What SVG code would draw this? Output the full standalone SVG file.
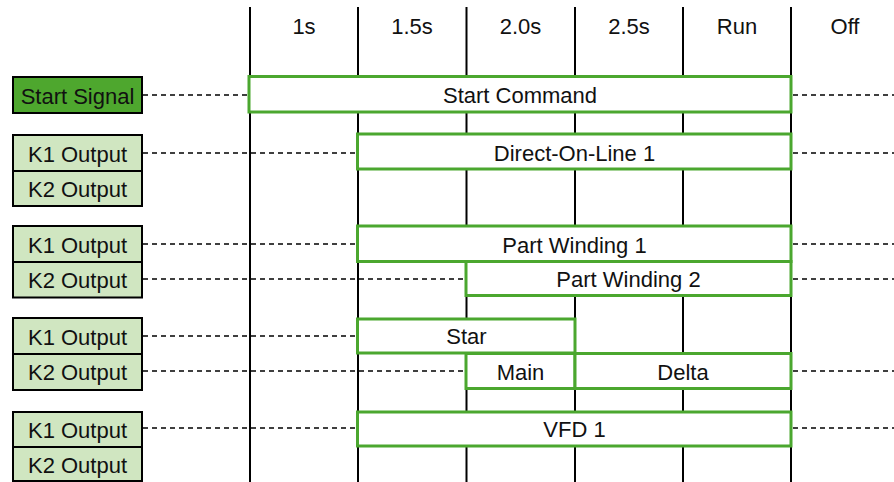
<svg xmlns="http://www.w3.org/2000/svg" width="894" height="482" viewBox="0 0 894 482">
<style>
  text { font-family: "Liberation Sans", Arial, sans-serif; font-size: 22px; fill: #111; }
  .c { text-anchor: middle; }
  .grid { stroke: #000; stroke-width: 2; }
  .dash { stroke: #000; stroke-width: 1.5; stroke-dasharray: 5 4; fill: none; }
  .bar { fill: #fff; stroke: #4ba72f; stroke-width: 3; }
  .lbl { fill: #d0e6c1; stroke: #000; stroke-width: 2; }
  .lbl-start { fill: #4ea72e; stroke: #000; stroke-width: 2; }
</style>
<rect width="894" height="482" fill="#fff"/>
<g id="grid">
  <line class="grid" x1="250" y1="7" x2="250" y2="482"/>
  <line class="grid" x1="358" y1="7" x2="358" y2="482"/>
  <line class="grid" x1="466.5" y1="7" x2="466.5" y2="482"/>
  <line class="grid" x1="575" y1="7" x2="575" y2="482"/>
  <line class="grid" x1="683" y1="7" x2="683" y2="482"/>
  <line class="grid" x1="791" y1="7" x2="791" y2="482"/>
</g>
<g id="headers">
  <text class="c" x="304" y="34">1s</text>
  <text class="c" x="412" y="34">1.5s</text>
  <text class="c" x="520.5" y="34">2.0s</text>
  <text class="c" x="629" y="34">2.5s</text>
  <text class="c" x="737" y="34">Run</text>
  <text class="c" x="845" y="34">Off</text>
</g>
<g id="connectors">
  <line class="dash" x1="143" y1="95" x2="249" y2="95"/>
  <line class="dash" x1="793" y1="95" x2="894" y2="95"/>
  <line class="dash" x1="143" y1="153" x2="357" y2="153"/>
  <line class="dash" x1="793" y1="153" x2="894" y2="153"/>
  <line class="dash" x1="143" y1="244" x2="357" y2="244"/>
  <line class="dash" x1="793" y1="244" x2="894" y2="244"/>
  <line class="dash" x1="143" y1="279" x2="465" y2="279"/>
  <line class="dash" x1="793" y1="279" x2="894" y2="279"/>
  <line class="dash" x1="143" y1="336" x2="357" y2="336"/>
  <line class="dash" x1="143" y1="371" x2="465" y2="371"/>
  <line class="dash" x1="793" y1="371" x2="894" y2="371"/>
  <line class="dash" x1="143" y1="428" x2="357" y2="428"/>
  <line class="dash" x1="793" y1="428" x2="894" y2="428"/>
</g>
<g id="start-command"><rect class="bar" x="249" y="76.5" width="542" height="35.5"/><text class="c" x="520" y="103">Start Command</text></g>
<g id="dol1"><rect class="bar" x="357.5" y="134" width="433.5" height="35"/><text class="c" x="574.5" y="161">Direct-On-Line 1</text></g>
<g id="pw1"><rect class="bar" x="357.5" y="226" width="433.5" height="35.5"/><text class="c" x="574.5" y="252.5">Part Winding 1</text></g>
<g id="pw2"><rect class="bar" x="466" y="261.5" width="325" height="34"/><text class="c" x="628.5" y="287">Part Winding 2</text></g>
<g id="star"><rect class="bar" x="357.5" y="319" width="217.5" height="34"/><text class="c" x="466.5" y="344">Star</text></g>
<g id="main"><rect class="bar" x="466" y="353.5" width="109" height="35"/><text class="c" x="520.5" y="379.5">Main</text></g>
<g id="delta"><rect class="bar" x="575" y="353.5" width="216" height="35"/><text class="c" x="683" y="379.5">Delta</text></g>
<g id="vfd1"><rect class="bar" x="357.5" y="412" width="433.5" height="34"/><text class="c" x="574.5" y="437">VFD 1</text></g>
<g id="start-signal"><rect class="lbl-start" x="13" y="77" width="129" height="36"/><text class="c" x="77.5" y="103.5">Start Signal</text></g>
<g id="g1-k1"><rect class="lbl" x="13" y="135" width="129" height="36"/><text class="c" x="77.5" y="161.5">K1 Output</text></g>
<g id="g1-k2"><rect class="lbl" x="13" y="171" width="129" height="35"/><text class="c" x="77.5" y="197">K2 Output</text></g>
<g id="g2-k1"><rect class="lbl" x="13" y="226" width="129" height="36"/><text class="c" x="77.5" y="252.5">K1 Output</text></g>
<g id="g2-k2"><rect class="lbl" x="13" y="262" width="129" height="35.5"/><text class="c" x="77.5" y="288">K2 Output</text></g>
<g id="g3-k1"><rect class="lbl" x="13" y="318" width="129" height="36"/><text class="c" x="77.5" y="344.5">K1 Output</text></g>
<g id="g3-k2"><rect class="lbl" x="13" y="354" width="129" height="36"/><text class="c" x="77.5" y="380">K2 Output</text></g>
<g id="g4-k1"><rect class="lbl" x="13" y="412" width="129" height="35"/><text class="c" x="77.5" y="438">K1 Output</text></g>
<g id="g4-k2"><rect class="lbl" x="13" y="447" width="129" height="34"/><text class="c" x="77.5" y="472.5">K2 Output</text></g>
</svg>
